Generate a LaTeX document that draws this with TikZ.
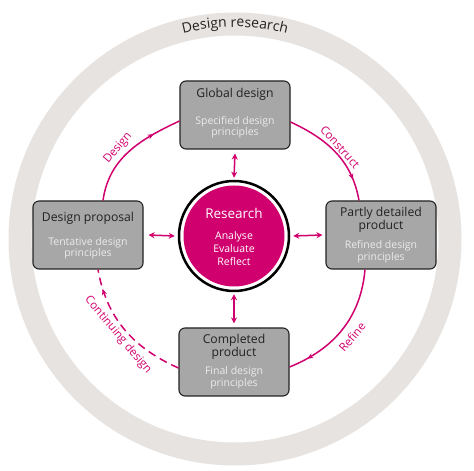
\documentclass[tikz,border=0pt]{standalone}
\usepackage{fontspec}
\setmainfont{Open Sans}
\usetikzlibrary{arrows.meta,decorations.markings,decorations.text}
\definecolor{mag}{HTML}{D1006F}
\definecolor{ringgray}{HTML}{E6E3E0}
\definecolor{boxgray}{HTML}{A7A7A7}
\definecolor{dark}{HTML}{222222}
\begin{document}
\begin{tikzpicture}[x=1pt,y=1pt,
  box/.style={draw=dark, line width=1.1pt, fill=boxgray, rounded corners=6pt, minimum width=110pt, minimum height=68pt, inner sep=0pt},
  ttl/.style={text=dark, font=\fontsize{12.2}{11.5}\selectfont, align=center, inner sep=0pt},
  sub/.style={text=white!92!black, font=\fontsize{10.5}{11.5}\selectfont, align=center, inner sep=0pt},
  link/.style={mag, line width=1.5pt},
  dbl/.style={link, {Stealth[length=6pt,width=6pt]}-{Stealth[length=6pt,width=6pt]}},
  midarrow/.style={postaction={decorate}, decoration={markings, mark=at position #1 with {\arrow{Stealth[length=6pt,width=5pt]}}}},
  lbl/.style={text=mag, font=\fontsize{11.5}{11.5}\selectfont, inner sep=0pt}]
\useasboundingbox (0,0) rectangle (474,471);
\fill[white] (0,0) rectangle (474,471);
\draw[ringgray, line width=23pt] (235,232) circle[radius=215];
\path[decorate, decoration={text along path, text align=center, text={|\color{dark}\fontsize{14}{15}\selectfont|Design research}}]
  (235,232) ++(125:212) arc[start angle=125, end angle=55, radius=212];

\node[box] (glob) at (235,356) {};
\node[box] (prop) at (88,236) {};
\node[box] (part) at (381,236) {};
\node[box] (comp) at (234,109) {};
\node[ttl] (globT) at ([yshift=-14]glob.north) {Global design};
\node[sub] (globS) at ([yshift=-47]glob.north) {Specified design\\principles};
\node[ttl] (propT) at ([yshift=-18]prop.north) {Design proposal};
\node[sub] (propS) at ([yshift=-48]prop.north) {Tentative design\\principles};
\node[ttl] (partT) at ([yshift=-19.5]part.north) {Partly detailed\\product};
\node[sub] (partS) at ([yshift=-51.5]part.north) {Refined design\\principles};
\node[ttl] (compT) at ([yshift=-19.5]comp.north) {Completed\\product};
\node[sub] (compS) at ([yshift=-50.5]comp.north) {Final design\\principles};

\node[circle, draw=black, line width=2.5pt, fill=white, minimum size=110pt, inner sep=0pt] (res) at (234,235) {};
\node[circle, fill=mag, minimum size=101pt, inner sep=0pt] (resIn) at (res.center) {};
\node[text=white, font=\fontsize{13.5}{15}\selectfont, inner sep=0pt] (resT) at ([yshift=23]res.center) {Research};
\node[text=white, font=\fontsize{10.5}{13}\selectfont, align=center, inner sep=0pt] (resS) at ([yshift=-13]res.center) {Analyse\\Evaluate\\Reflect};

\draw[dbl] ([yshift=-4]glob.south) -- ([yshift=2]res.north);
\draw[dbl] ([yshift=-2]res.south) -- ([yshift=4]comp.north);
\draw[dbl] ([xshift=5]prop.east) -- ([xshift=-3]res.west);
\draw[dbl] ([xshift=3]res.east) -- ([xshift=-3]part.west);

\draw[link, midarrow=0.75] ([xshift=15]prop.north) to[out=82, in=205] ([yshift=-6]glob.west);
\draw[link, midarrow=0.8] ([yshift=-7]glob.east) to[out=-25, in=100] ([xshift=-22]part.north);
\draw[link, midarrow=0.85] ([xshift=-16]part.south) to[out=-95, in=22] ([yshift=-5]comp.east);
\draw[link, dash pattern=on 8pt off 5pt, midarrow=0.85] ([yshift=-6]comp.west) to[out=156, in=-80] ([xshift=10]prop.south);

\node[lbl, rotate=50] (lD) at (118,323) {Design};
\node[lbl, rotate=-48] (lC) at (340,324) {Construct};
\node[lbl, rotate=50] (lR) at (352,134) {Refine};
\node[lbl, rotate=-50] (lCD) at (118,136) {Continuing design};
\end{tikzpicture}
\end{document}
